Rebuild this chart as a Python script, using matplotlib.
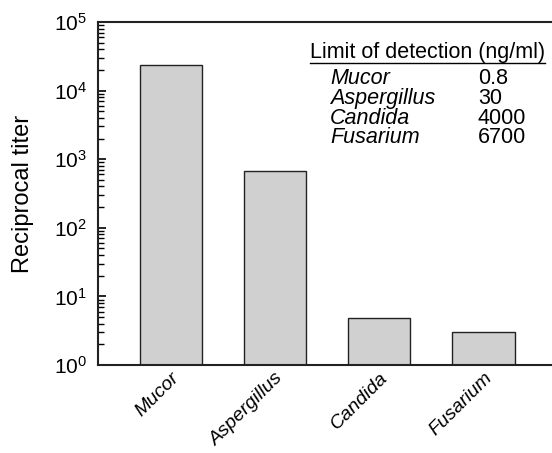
# Reciprocal titer bar chart, log scale, with limit of detection table
import numpy as np
import matplotlib
matplotlib.use('Agg')
import matplotlib.pyplot as plt
from matplotlib.lines import Line2D

plt.rcParams['font.family'] = ['Liberation Sans', 'DejaVu Sans']
plt.rcParams['mathtext.fontset'] = 'custom'
plt.rcParams['mathtext.rm'] = 'Liberation Sans'
plt.rcParams['mathtext.it'] = 'Liberation Sans:italic'

# data
species = ['Mucor', 'Aspergillus', 'Candida', 'Fusarium']
titer = [23500, 680, 4.9, 3.0]
lod_values = ['0.8', '30', '4000', '6700']

fig = plt.figure(figsize=(5.52, 4.53), dpi=100)
ax = fig.add_axes([0.1775, 0.1943, 0.8225, 0.7571])

x = np.arange(len(species))
ax.bar(x, titer, width=0.6, color='#d0d0d0', edgecolor='#222222', linewidth=1.0)
ax.set_yscale('log')
ax.set_ylim(1, 1e5)
ax.set_xlim(-0.70, 3.66)

ax.spines['right'].set_visible(False)
for s in ['left', 'bottom', 'top']:
    ax.spines[s].set_linewidth(1.5)
    ax.spines[s].set_color('#222222')

ax.tick_params(axis='y', which='major', direction='in', length=6, width=1.2, labelsize=15, pad=8)
ax.tick_params(axis='y', which='minor', direction='in', length=4, width=1.0)
ax.set_xticks(x)
ax.set_xticklabels(species, rotation=45, ha='right', rotation_mode='anchor',
                   fontsize=14, style='italic')
ax.tick_params(axis='x', length=0, pad=3)
ax.set_ylabel('Reciprocal titer', fontsize=17, labelpad=14)

# limit of detection table
hdr = ax.text(0.467, 0.895, 'Limit of detection (ng/ml)', transform=ax.transAxes,
              fontsize=15.5, va='baseline')
y0 = 0.818
dy = 0.0574
for i, (name, val) in enumerate(zip(species, lod_values)):
    ax.text(0.511, y0 - i * dy, name, transform=ax.transAxes, fontsize=15.5,
            style='italic', va='baseline')
    ax.text(0.837, y0 - i * dy, val, transform=ax.transAxes, fontsize=15.5,
            va='baseline')

# underline the header
fig.canvas.draw()
bb = hdr.get_window_extent().transformed(fig.transFigure.inverted())
fig.add_artist(Line2D([bb.x0, bb.x1], [bb.y0 + 0.001, bb.y0 + 0.001],
                      transform=fig.transFigure, color='black', linewidth=1.0))

fig.savefig('out.png', dpi=100)
